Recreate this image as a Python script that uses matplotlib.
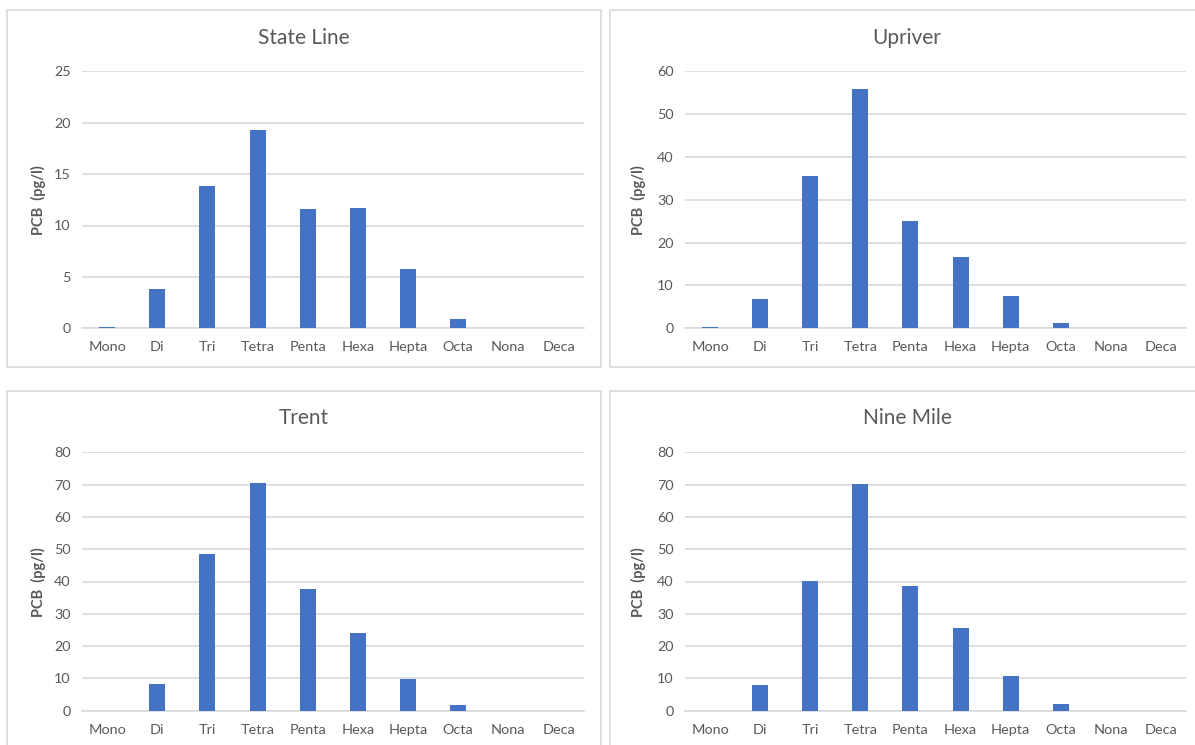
import matplotlib
matplotlib.use("Agg")
import matplotlib.pyplot as plt
from matplotlib.patches import Rectangle

W, H = 1195, 745

categories = ["Mono", "Di", "Tri", "Tetra", "Penta", "Hexa", "Hepta", "Octa", "Nona", "Deca"]
state_line = [0.15, 3.8, 13.85, 19.25, 11.6, 11.7, 5.75, 0.95, 0, 0]
upriver = [0.3, 6.85, 35.5, 55.8, 25.1, 16.6, 7.6, 1.3, 0, 0]
trent = [0, 8.4, 48.5, 70.4, 37.7, 24.0, 9.8, 1.75, 0, 0]
nine_mile = [0, 7.9, 40.1, 70.2, 38.6, 25.6, 10.6, 2.1, 0, 0]

titles = ["State Line", "Upriver", "Trent", "Nine Mile"]
series = [state_line, upriver, trent, nine_mile]
y_max = [25, 60, 80, 80]
y_step = [5, 10, 10, 10]

BAR = "#4472C4"
GRID = "#d9d9d9"
TEXT = "#595959"

plt.rcParams["font.family"] = ["Lato", "DejaVu Sans"]

# pixel layout: frame box, plot box, title centre, ylabel centre
frames = [(7, 10, 601, 367), (610, 10, 1200, 367), (7, 391, 601, 760), (610, 391, 1200, 760)]
plots = [(82, 71.3, 583.6, 328.3), (685, 71.3, 1186, 328.3),
         (82, 452.3, 583.6, 710.7), (685, 452.3, 1186, 710.7)]
title_pos = [(304, 38), (907, 38), (304, 418), (907, 418)]
ylabel_pos = [(38, 200), (638, 200), (38, 582), (638, 582)]

fig = plt.figure(figsize=(W / 100, H / 100), dpi=100)
fig.patch.set_facecolor("white")

for i in range(4):
    x0, y0, x1, y1 = frames[i]
    fig.patches.append(Rectangle((x0 / W, 1 - y1 / H), (x1 - x0) / W, (y1 - y0) / H,
                                 fill=False, edgecolor=GRID, lw=1.2,
                                 transform=fig.transFigure, figure=fig))

    px0, py0, px1, py1 = plots[i]
    ax = fig.add_axes([px0 / W, 1 - py1 / H, (px1 - px0) / W, (py1 - py0) / H])
    xs = range(len(categories))
    ax.bar(xs, series[i], width=0.32, color=BAR, zorder=3)
    ax.set_xlim(-0.5, len(categories) - 0.5)
    ax.set_ylim(0, y_max[i])
    ax.set_yticks(range(0, y_max[i] + 1, y_step[i]))
    ax.set_xticks(list(xs))
    ax.set_xticklabels(categories)
    ax.grid(axis="y", color=GRID, lw=1.2, zorder=0)
    ax.set_axisbelow(True)
    for s in ["top", "left", "right"]:
        ax.spines[s].set_visible(False)
    ax.spines["bottom"].set_color(GRID)
    ax.spines["bottom"].set_linewidth(1.2)
    ax.tick_params(axis="both", length=0, labelsize=10.4, labelcolor=TEXT)
    ax.tick_params(axis="y", pad=8)
    ax.tick_params(axis="x", pad=9.5)

    tx, ty = title_pos[i]
    fig.text(tx / W, 1 - ty / H, titles[i], ha="center", va="center",
             fontsize=15, color=TEXT)
    lx, ly = ylabel_pos[i]
    fig.text(lx / W, 1 - ly / H, "PCB  (pg/l)", ha="center", va="center",
             rotation=90, fontsize=10.5, fontweight="bold", color=TEXT)

fig.savefig("out.png", dpi=100)
